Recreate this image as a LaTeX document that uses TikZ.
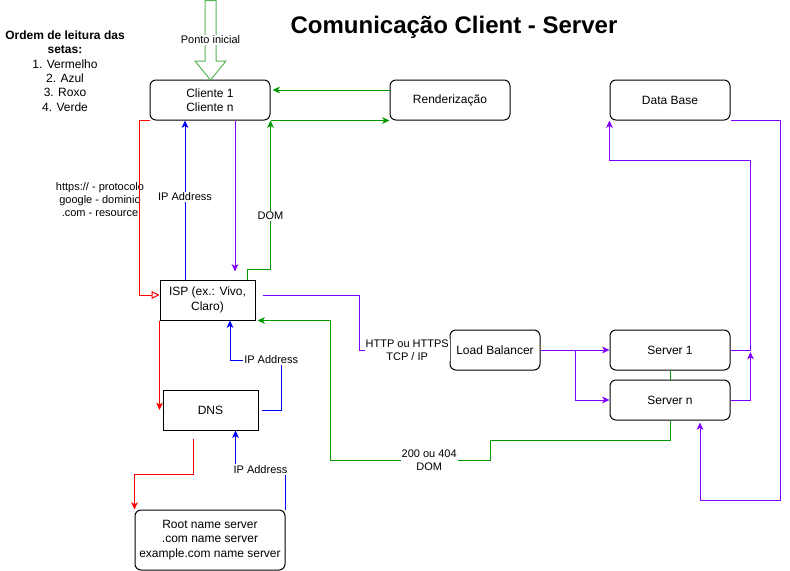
\documentclass[tikz,border=0pt]{standalone}
\usepackage{fontspec}
\setmainfont{Liberation Sans}
\usetikzlibrary{arrows.meta,calc}

\definecolor{redl}{RGB}{255,0,0}
\definecolor{bluel}{RGB}{0,0,255}
\definecolor{purpl}{RGB}{127,0,255}
\definecolor{grnl}{RGB}{0,153,0}
\definecolor{startgrn}{RGB}{90,180,90}

\tikzset{every picture/.style={line width=0.75pt}}
\tikzset{
  box/.style={draw, rounded corners=4.5pt, minimum width=90pt, minimum height=30pt, align=center, inner sep=0.75pt, font=\fontsize{9}{10.8}\selectfont},
  sqbox/.style={box, rounded corners=0pt, minimum width=71.25pt},
  lbl/.style={fill=white, text=black, inner sep=0.75pt, align=center, font=\fontsize{8.25}{9.75}\selectfont},
  tip/.style={-{Stealth[length=5.5pt,width=5pt,inset=1.5pt]}},
}

\begin{document}
\begin{tikzpicture}[x=0.75pt,y=0.75pt,yscale=-1,xscale=1]
\useasboundingbox (0,0) rectangle (790,571);

% Title
\draw (454,27) node [font=\fontsize{18}{21}\bfseries\selectfont] (title) {Comunicação Client - Server};
% Text Node
\draw (65,71) node [align=center, inner sep=0.75pt, font=\fontsize{9}{10.8}\selectfont] (legend) {\textbf{Ordem de leitura das}\\\textbf{setas:}\\1. Vermelho\\2. Azul\\3. Roxo\\4. Verde};

%Shape: Rounded Rect
\draw (210,100) node [box] (cli) {Cliente 1\\Cliente n};
\draw (450,100) node [box] (rend) {Renderização};
\draw (670,100) node [box] (db) {Data Base};
%Shape: Rectangle
\draw (207.5,300) node [sqbox] (isp) {ISP (ex.: Vivo,\\Claro)};
\draw (210.5,410) node [sqbox] (dns) {DNS};
%Shape: Rounded Rect
\draw (210,540) node [box, minimum width=112.5pt, minimum height=45pt] (root) {Root name server\\.com name server\\example.com name server};
\draw (495,350) node [box, minimum width=67.5pt] (lb) {Load Balancer};
\draw (670,350) node [box] (s1) {Server 1};
\draw (670,400) node [box] (sn) {Server n};

%Shape: Down Arrow
\draw [color=startgrn, fill=white] (205,0.5) -- (205,61) -- (195,61) -- (210.5,80) -- (226,61) -- (216,61) -- (216,0.5) -- cycle;
% Text Node
\draw (210.5,40) node [lbl] (start) {Ponto inicial};
% Text Node
\draw (100,200) node [lbl, fill=none] (url) {https:// - protocolo\\google - dominio\\.com - resource};

% 1. red
\draw [redl, -{Triangle[open,length=6pt,width=6pt]}] (cli.south west) -- ++(-10,0) |- ($(isp.west)+(0,-5)$);
\draw [redl, tip] (isp.south west) -- (isp.south west |- dns.west);
\draw [redl, tip] ($(dns.south)+(-17.5,8)$) -- ++(0,36) -| (root.north west);

% 2. blue
\draw [bluel, tip] ($(isp.north)+(-22.5,0)$) -- ($(cli.south)+(-25,0)$) node [lbl, pos=0.52] {IP Address};
\draw [bluel, tip] ($(dns.east)+(3,0)$) -| ++(20,-50) -| ($(isp.south)+(22.5,0)$) node [lbl, pos=0.1] {IP Address};
\draw [bluel, tip] (root.north east) -- ++(0,-40) -| ($(dns.south)+(25,0)$) node [lbl, pos=0.25] {IP Address};

% 3. purple
\draw [purpl, tip] ($(cli.south)+(25,0)$) -- ($(isp.north)+(27.5,-8)$);
\draw [purpl] ($(isp.east)+(7,-5)$) -| ($(lb.west)+(-90,0)$) -- (lb.west) node [lbl, pos=0.53] {HTTP ou HTTPS\\TCP / IP};
\draw [purpl, tip] (lb.east) -- (s1.west);
\draw [purpl, tip] ($(lb.east)+(35,0)$) |- (sn.west);
\draw [purpl, tip] (s1.east) -- ++(20,0) |- ($(db.south west)+(0,40)$) -- (db.south west);
\draw [purpl, tip] (sn.east) -| ($(s1.east)+(20,2)$);
\draw [purpl, tip] (db.south east) -| ++(50,380) -| ($(sn.south)+(30,2)$);

% 4. green
\draw [grnl] (s1.south) -- (sn.north);
\draw [grnl, tip] (sn.south) -- ++(0,20) -- ++(-180,0) -- ++(0,20) -- ++(-160,0) node [lbl, pos=0.38] {200 ou 404\\DOM} |- ($(isp.south east)+(2,0)$);
\draw [grnl, tip] ($(isp.north east)+(-8,0)$) -- ++(0,-10) -| (cli.south east) node [lbl, pos=0.68] {DOM};
\draw [grnl, tip] (cli.south east) -- (rend.south west);
\draw [grnl, tip] ($(rend.west)+(0,-10)$) -- ($(cli.east)+(2,-10)$);

\end{tikzpicture}
\end{document}
